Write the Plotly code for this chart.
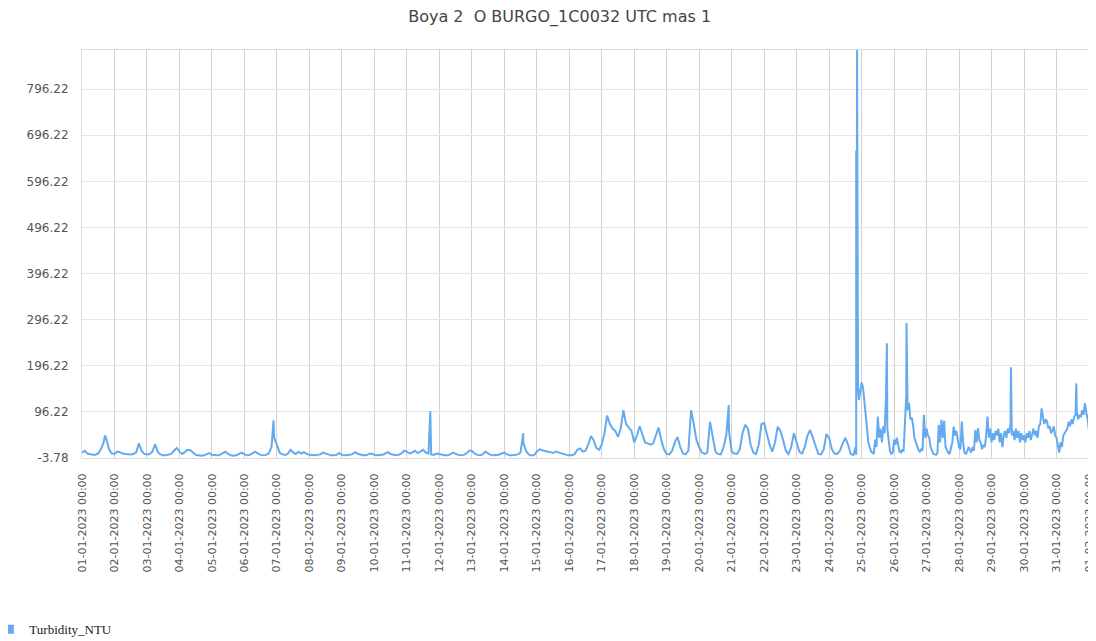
import pandas as pd
import plotly.graph_objects as go

# Turbidity (NTU).
# 01-01 .. 24-01: one value every 2 hours (12 per day)
jan01_08 = [
    8, 12, 6, 4, 3, 3, 6, 15, 30, 38, 15, 6,
    5, 10, 9, 6, 5, 4, 4, 5, 8, 28, 12, 5,
    4, 5, 10, 26, 9, 4, 2, 2, 3, 5, 12, 18,
    10, 5, 9, 14, 13, 7, 3, 2, 1, 2, 4, 7,
    3, 2, 2, 3, 6, 10, 5, 2, 1, 2, 5, 8,
    4, 2, 3, 6, 10, 6, 3, 2, 3, 6, 20, 40,
    25, 8, 4, 3, 5, 14, 8, 5, 10, 6, 9, 5,
    3, 2, 2, 3, 4, 8, 6, 3, 2, 2, 3, 7,
]
jan09_16 = [
    3, 2, 2, 3, 5, 9, 5, 3, 2, 2, 5, 6,
    3, 2, 2, 3, 6, 9, 5, 3, 2, 3, 6, 12,
    10, 6, 8, 12, 7, 10, 14, 8, 6, 4, 3, 6,
    5, 3, 2, 2, 4, 8, 5, 3, 2, 3, 6, 12,
    12, 6, 3, 2, 4, 10, 6, 3, 2, 2, 3, 6,
    8, 4, 2, 2, 3, 4, 8, 30, 12, 4, 2, 2,
    10, 15, 13, 11, 10, 9, 7, 10, 8, 6, 4, 3,
    2, 2, 5, 14, 17, 10, 12, 25, 44, 35, 18, 14,
]
jan17_24 = [
    25, 50, 88, 70, 60, 55, 42, 60, 100, 70, 62, 55,
    30, 45, 65, 48, 30, 28, 25, 28, 45, 62, 35, 15,
    5, 4, 12, 30, 42, 20, 6, 4, 12, 100, 70, 35,
    20, 8, 5, 8, 75, 40, 10, 5, 4, 20, 45, 55,
    10, 6, 5, 15, 50, 68, 60, 25, 8, 5, 25, 70,
    72, 50, 25, 10, 30, 64, 55, 35, 12, 5, 20, 50,
    30, 10, 6, 20, 45, 57, 40, 20, 5, 4, 15, 48,
    40, 15, 6, 5, 12, 28, 40, 25, 5, 3, 3, 122,
]
# 25-01 .. 01-02 00:00: one value every hour (24 per day)
jan25_31 = [
    160, 150, 120, 90, 50, 30, 20, 10, 8, 5, 36, 20, 86, 40, 60, 30, 65, 50, 127, 60, 30, 10, 5, 8,
    36, 25, 40, 20, 10, 8, 15, 10, 60, 133, 100, 116, 80, 84, 68, 40, 30, 20, 14, 10, 15, 12, 90, 40,
    60, 45, 40, 20, 10, 5, 4, 3, 7, 68, 30, 79, 40, 77, 20, 12, 8, 5, 15, 30, 64, 45, 55, 40,
    20, 15, 75, 30, 8, 5, 10, 20, 15, 8, 20, 12, 57, 30, 61, 35, 30, 15, 25, 20, 45, 86, 40, 60,
    30, 50, 35, 55, 45, 60, 30, 50, 20, 45, 55, 40, 60, 50, 70, 45, 55, 35, 60, 40, 55, 30, 50, 35,
    45, 30, 50, 40, 55, 35, 50, 60, 45, 55, 40, 65, 70, 104, 85, 70, 80, 75, 60, 65, 50, 55, 65, 45,
    40, 25, 8, 30, 20, 45, 50, 55, 60, 75, 65, 80, 70, 85, 90, 95, 80, 90, 85, 100, 90, 115, 95, 80,
    55,
]

# Short spikes between the regular readings
spike_times = [
    "2023-01-01 17:00", "2023-01-06 21:30", "2023-01-11 17:20",
    "2023-01-14 14:00", "2023-01-20 21:50",
    "2023-01-24 19:40", "2023-01-24 20:00", "2023-01-24 20:20",
    "2023-01-24 20:40", "2023-01-24 21:00", "2023-01-24 21:20",
    "2023-01-25 18:40", "2023-01-26 09:10",
    "2023-01-29 14:20", "2023-01-31 14:40",
]
spike_values = [45, 78, 98, 50, 111, 20, 663, 400, 881, 300, 150, 245, 289, 193, 158]

y_ticks = [-3.78, 96.22, 196.22, 296.22, 396.22, 496.22, 596.22, 696.22, 796.22]
x_ticks = pd.date_range("2023-01-01", "2023-02-01", freq="D")
x_tick_text = [d.strftime("%d-%m-%Y %H:%M") for d in x_ticks]

two_hourly = jan01_08 + jan09_16 + jan17_24
t1 = pd.date_range("2023-01-01", periods=len(two_hourly), freq="2h")
t2 = pd.date_range("2023-01-25", periods=len(jan25_31), freq="h")
series = pd.concat([
    pd.Series(two_hourly, index=t1),
    pd.Series(jan25_31, index=t2),
    pd.Series(spike_values, index=pd.to_datetime(spike_times)),
]).sort_index()

color = "#64aaf0"

fig = go.Figure()
fig.add_trace(go.Scatter(
    x=series.index, y=series.values, mode="lines",
    line=dict(color=color, width=2), showlegend=False,
    name="Turbidity_NTU",
))
fig.add_trace(go.Scatter(
    x=[None], y=[None], mode="markers", name="Turbidity_NTU",
    marker=dict(symbol="square", size=9, color=color),
))

fig.update_layout(
    width=1088, height=633,
    margin=dict(l=74, r=7, t=42, b=183, autoexpand=False),
    paper_bgcolor="white", plot_bgcolor="white",
    title=dict(text="Boya 2  O BURGO_1C0032 UTC mas 1", x=0.507, xanchor="center",
               y=0.996, yanchor="top",
               font=dict(family="DejaVu Sans", size=16, color="#444")),
    font=dict(family="DejaVu Sans", size=12, color="#555"),
    legend=dict(orientation="h", x=-0.092, xanchor="left", y=-0.42, yanchor="middle",
                font=dict(family="Liberation Serif", size=13, color="#222"),
                itemwidth=30, bgcolor="rgba(0,0,0,0)"),
)
fig.update_xaxes(
    automargin=False,
    range=[x_ticks[0], x_ticks[-1]],
    tickmode="array", tickvals=x_ticks, ticktext=x_tick_text, tickangle=-90,
    tickfont=dict(size=11, color="#555"), ticklabeloverflow="allow",
    ticks="outside", ticklen=10, tickcolor="rgba(0,0,0,0)",
    showgrid=True, gridcolor="#d2d2d2", gridwidth=1,
    showline=True, linecolor="#dcdcdc", mirror=True, zeroline=False,
)
fig.update_yaxes(
    automargin=False,
    range=[-3.78, 881],
    tickmode="array", tickvals=y_ticks, ticktext=[f"{v:.2f}" for v in y_ticks],
    tickfont=dict(size=12, color="#555"),
    ticks="outside", ticklen=10, tickcolor="rgba(0,0,0,0)",
    showgrid=True, gridcolor="#e6e6e6", gridwidth=1,
    showline=True, linecolor="#dcdcdc", mirror=True, zeroline=False,
)

fig.write_html("out.html")
